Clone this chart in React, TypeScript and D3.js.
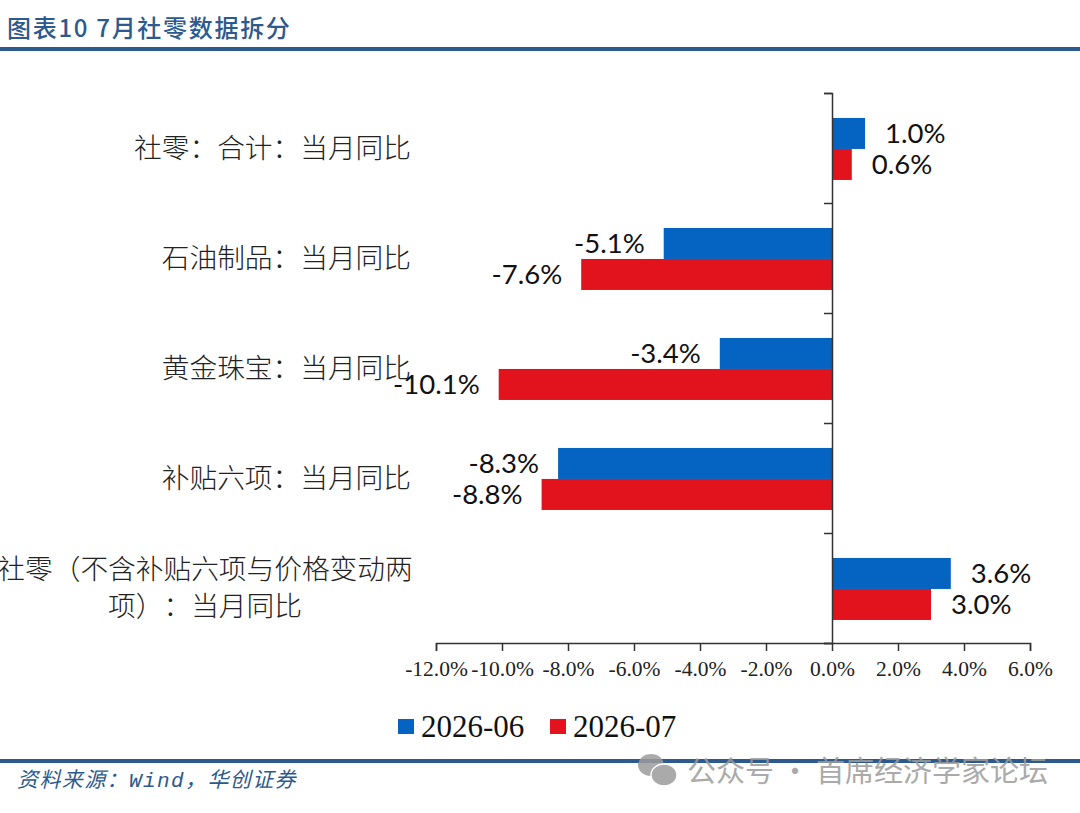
import * as d3 from "d3";
import { useEffect, useRef } from "react";

const categories = [
  "社零：合计：当月同比",
  "石油制品：当月同比",
  "黄金珠宝：当月同比",
  "补贴六项：当月同比",
  "社零（不含补贴六项与价格变动两\n项）：当月同比",
];
const seriesNames = ["2026-06", "2026-07"];
const values0 = [1.0, -5.1, -3.4, -8.3, 3.6];
const values1 = [0.6, -7.6, -10.1, -8.8, 3.0];
const xTicks = [-12, -10, -8, -6, -4, -2, 0, 2, 4, 6];
const colors = ["#0563c1", "#e3131e"];

const titleText = "图表10 7月社零数据拆分";
const sourceText = "资料来源：Wind，华创证券";
const watermarkText = "公众号 · 首席经济学家论坛";

const SERIF = "'Liberation Serif', serif";
const CJK = "'Noto Sans CJK SC', sans-serif";
const LABEL = "Lato, 'Open Sans', sans-serif";
const RULE = "#2c5a8e";

const App = () => {
  const ref = useRef<SVGSVGElement | null>(null);

  useEffect(() => {
    const svg = d3.select(ref.current);
    svg.selectAll("*").remove();

    const x = d3.scaleLinear().domain([-12, 6]).range([436, 1030]);
    const y = d3.scaleBand<string>().domain(categories).range([93, 643]);
    const inner = d3
      .scaleBand<string>()
      .domain(seriesNames)
      .range([0, y.bandwidth()])
      .paddingOuter(0.774)
      .align(0.52);
    const yEdges = d3
      .scaleLinear()
      .domain([0, categories.length])
      .range([93, 643]);

    // header and footer
    svg
      .append("text")
      .attr("x", 7)
      .attr("y", 37)
      .attr("font-family", CJK)
      .attr("font-size", 24)
      .attr("font-weight", 500)
      .attr("letter-spacing", 1.7)
      .attr("fill", RULE)
      .text(titleText);

    // watermark sits over the bottom rule
    [49, 761].forEach((ry) => {
      svg
        .append("rect")
        .attr("x", 0)
        .attr("y", ry - 2)
        .attr("width", 1080)
        .attr("height", 4)
        .attr("fill", RULE);
    });

    svg
      .append("text")
      .attr("x", 17)
      .attr("y", 787)
      .attr("font-family", "'Liberation Mono', " + CJK)
      .attr("font-size", 21)
      .attr("font-style", "italic")
      .attr("letter-spacing", 1.4)
      .attr("fill", RULE)
      .style("text-spacing-trim", "space-all")
      .text(sourceText);

    // bars
    [values0, values1].forEach((vals, si) => {
      svg
        .append("g")
        .selectAll("rect")
        .data(vals)
        .join("rect")
        .attr("x", (d) => Math.min(x(d), x(0)))
        .attr("y", (_, i) => y(categories[i])! + inner(seriesNames[si])!)
        .attr("width", (d) => Math.abs(x(d) - x(0)))
        .attr("height", inner.bandwidth())
        .attr("fill", colors[si]);

      svg
        .append("g")
        .selectAll("text")
        .data(vals)
        .join("text")
        .attr("x", (d) => x(d) + (d < 0 ? -19 : 20))
        .attr(
          "y",
          (_, i) =>
            y(categories[i])! + inner(seriesNames[si])! + inner.bandwidth() / 2
        )
        .attr("dy", "0.36em")
        .attr("text-anchor", (d) => (d < 0 ? "end" : "start"))
        .attr("font-family", LABEL)
        .attr("font-size", 27.5)
        .attr("fill", "#111")
        .text((d) => d.toFixed(1) + "%");
    });

    // axes
    const xAxis = svg
      .append("g")
      .attr("transform", "translate(0,643)")
      .call(
        d3
          .axisBottom(x)
          .tickValues(xTicks)
          .tickSize(8)
          .tickSizeOuter(8)
          .tickPadding(10)
          .tickFormat((d) => Number(d).toFixed(1) + "%")
      );
    xAxis.selectAll("text").attr("font-size", 21.5).attr("fill", "#222");
    xAxis.attr("font-family", SERIF);
    xAxis.selectAll("path,line").attr("stroke", "#333").attr("stroke-width", 1.5);

    const yAxis = svg
      .append("g")
      .attr("transform", `translate(${x(0)},0)`)
      .call(
        d3
          .axisLeft(yEdges)
          .tickValues(d3.range(categories.length + 1))
          .tickSize(8)
          .tickSizeOuter(8)
          .tickFormat(() => "")
      );
    yAxis.selectAll("path,line").attr("stroke", "#333").attr("stroke-width", 1.5);

    // category labels, the wrapped one is centred on its own width
    categories.forEach((cat) => {
      const lines = cat.split("\n");
      const cy = y(cat)! + y.bandwidth() / 2;
      lines.forEach((line, li) => {
        svg
          .append("text")
          .attr("x", lines.length > 1 ? 205 : 411)
          .attr("y", cy + (li - (lines.length - 1) / 2) * 37)
          .attr("dy", "0.36em")
          .attr("text-anchor", lines.length > 1 ? "middle" : "end")
          .attr("font-family", CJK)
          .attr("font-size", 27.7)
          .attr("font-weight", 300)
          .attr("fill", "#222")
          .style("text-spacing-trim", "space-all")
          .text(line);
      });
    });

    // legend
    const legendX = d3.scalePoint<string>().domain(seriesNames).range([398, 550]);
    seriesNames.forEach((name, i) => {
      const lx = legendX(name)!;
      svg
        .append("rect")
        .attr("x", lx)
        .attr("y", 719)
        .attr("width", 16)
        .attr("height", 15)
        .attr("fill", colors[i]);
      svg
        .append("text")
        .attr("x", lx + 23)
        .attr("y", 737)
        .attr("font-family", SERIF)
        .attr("font-size", 31)
        .attr("fill", "#111")
        .text(name);
    });

    // watermark
    const mark = svg.append("g").attr("fill", "#9c9c9c").attr("opacity", 0.85);
    mark
      .append("ellipse")
      .attr("cx", 651)
      .attr("cy", 765)
      .attr("rx", 13)
      .attr("ry", 11);
    mark
      .append("ellipse")
      .attr("cx", 664)
      .attr("cy", 775)
      .attr("rx", 13)
      .attr("ry", 11)
      .attr("stroke", "#fff")
      .attr("stroke-width", 1.5);
    mark
      .append("text")
      .attr("x", 687)
      .attr("y", 782)
      .attr("font-family", CJK)
      .attr("font-size", 29)
      .text(watermarkText);
  }, []);

  return (
    <svg
      ref={ref}
      width={1080}
      height={813}
      style={{ position: "absolute", left: 0, top: 0, background: "#fff" }}
    ></svg>
  );
};

export default App;
